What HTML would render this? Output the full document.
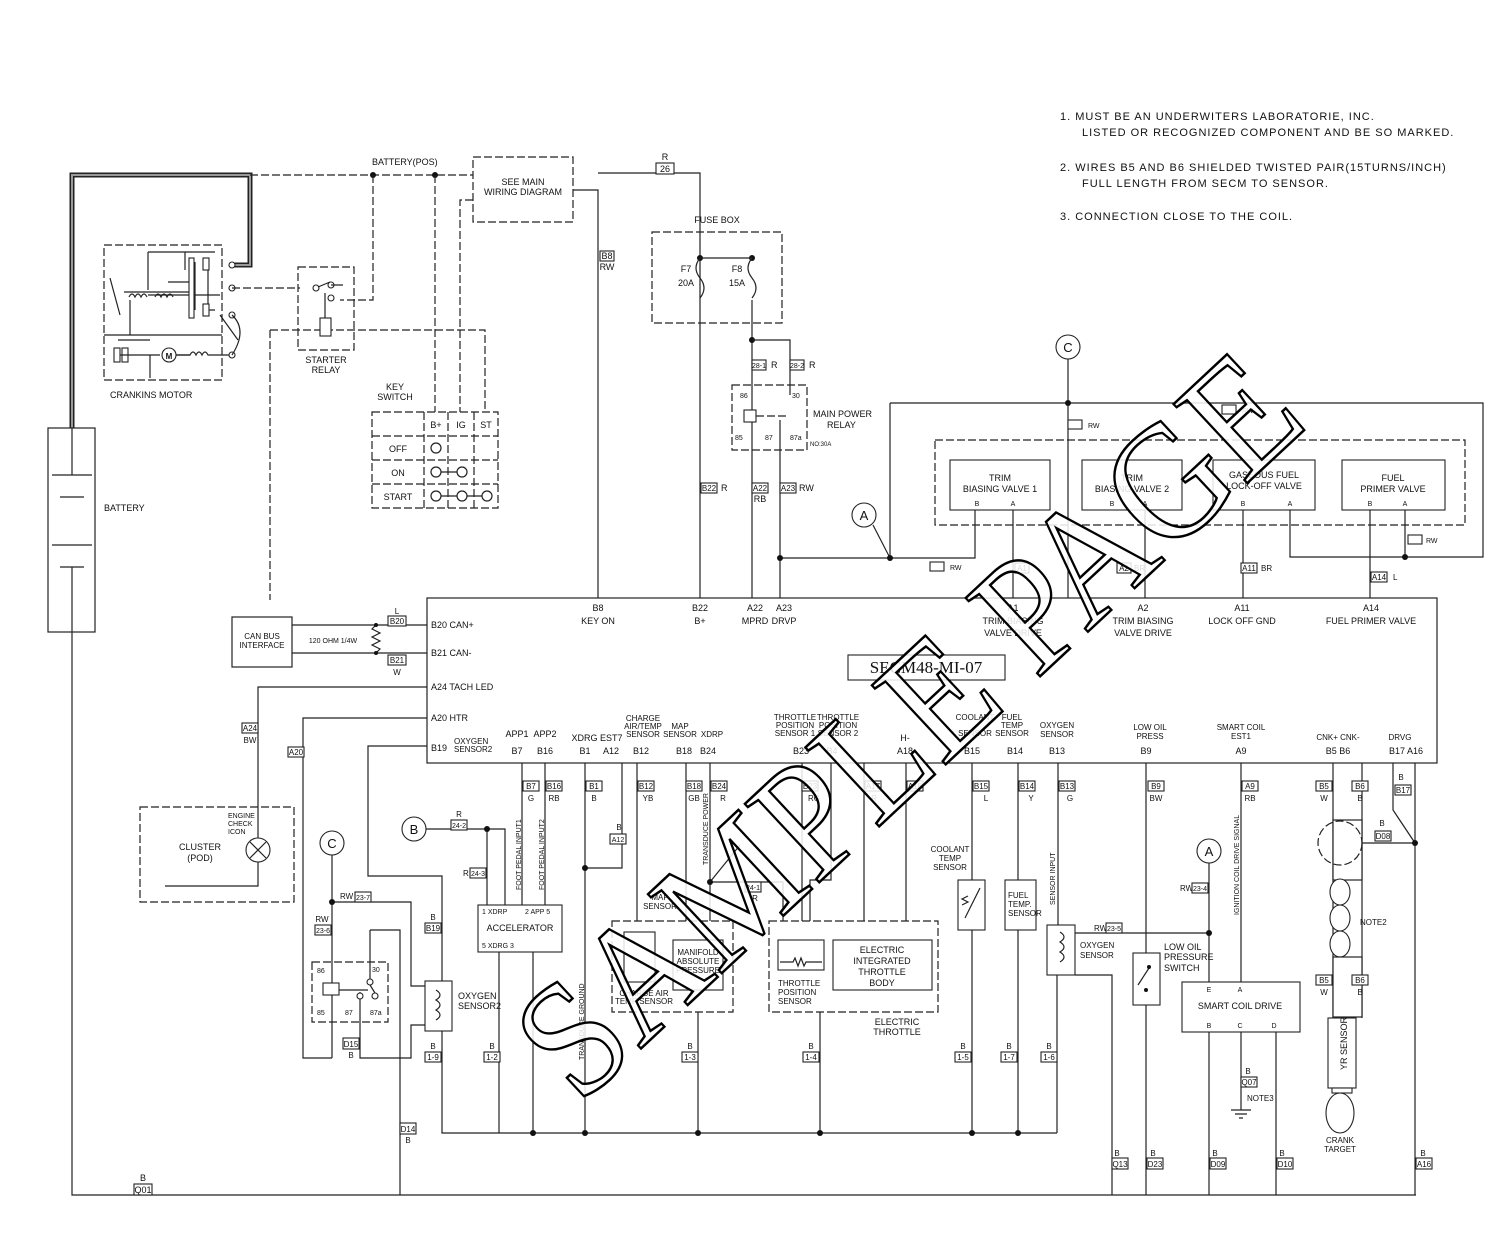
<!DOCTYPE html>
<html><head><meta charset="utf-8"><style>
html,body{margin:0;padding:0;background:#fff}
svg{display:block}
text{font-family:"Liberation Sans",sans-serif;font-size:9px;fill:#111}
.l{stroke:#222;stroke-width:1.2;fill:none}
.d{stroke:#222;stroke-width:1.2;fill:none;stroke-dasharray:8 3}
.b{stroke:#222;stroke-width:1.1;fill:#fff}
.m{text-anchor:middle}
.n{font-size:11px;letter-spacing:1px}
</style></head><body>
<svg width="1500" height="1259" viewBox="0 0 1500 1259" xmlns="http://www.w3.org/2000/svg">
<!-- notes -->
<text x="1060" y="120" class="n">1. MUST BE AN UNDERWITERS LABORATORIE, INC.</text>
<text x="1082" y="136" class="n">LISTED OR RECOGNIZED COMPONENT AND BE SO MARKED.</text>
<text x="1060" y="171" class="n">2. WIRES B5 AND B6 SHIELDED TWISTED PAIR(15TURNS/INCH)</text>
<text x="1082" y="187" class="n">FULL LENGTH FROM SECM TO SENSOR.</text>
<text x="1060" y="220" class="n">3. CONNECTION CLOSE TO THE COIL.</text>

<!-- thick hatched cable -->
<path d="M72,428 V175 H250 V265 H232" fill="none" stroke="#222" stroke-width="5"/>
<path d="M72,428 V175 H250 V265 H232" fill="none" stroke="#999" stroke-width="2"/>
<!-- battery -->
<rect x="48" y="428" width="47" height="204" class="l"/>
<path d="M72,428 V475 M52,475 H92 M60,497 H84 M52,545 H92 M60,567 H84 M72,567 V632" class="l"/>
<text x="104" y="511">BATTERY</text>
<path d="M72,632 V1195 H1416" class="l"/>
<text x="143" y="1181" class="m">B</text><rect x="134" y="1184" width="18" height="11" class="b"/><text x="143" y="1193" class="m">Q01</text>

<!-- cranking motor -->
<rect x="104" y="245" width="118" height="135" class="d"/>
<path d="M104,335 H222 M148,252 H215 M148,252 V290 M185,252 V270 M195,262 V310 M208,262 V310 H215 M168,282 H190 M148,295 H220 M110,278 L120,315 M118,340 H150 M165,355 H190 M220,315 L238,340 M124,292 H190 M130,300 V335" class="l"/>
<rect x="189" y="258" width="5" height="60" class="b"/><rect x="203" y="258" width="6" height="12" class="b"/><rect x="203" y="304" width="6" height="12" class="b"/>
<rect x="114" y="348" width="6" height="14" class="b"/><rect x="122" y="348" width="6" height="14" class="b"/>
<path d="M120,355 H160" class="l"/>
<circle cx="169" cy="355" r="7" class="b"/><text x="169" y="359" class="m" style="font-weight:bold;font-size:8px">M</text>
<path d="M176,355 H190 q3,-6 6,0 q3,-6 6,0 q3,-6 6,0 H232" class="l"/>
<path d="M129,297 q3,-6 6,0 q3,-6 6,0 q3,-6 6,0 M155,297 q3,-6 6,0 q3,-6 6,0 q3,-6 6,0" class="l"/>
<path d="M150,355 V378" class="l"/>
<circle cx="232" cy="265" r="3" class="b"/><circle cx="232" cy="288" r="3" class="b"/><circle cx="232" cy="315" r="3" class="b"/><circle cx="232" cy="355" r="3" class="b"/>
<path d="M232,315 Q248,330 232,355" class="l"/>
<text x="110" y="398">CRANKINS MOTOR</text>

<!-- top battery line -->
<path d="M250,175 H473" class="d"/>
<text x="372" y="165">BATTERY(POS)</text>
<circle cx="373" cy="175" r="3" fill="#111"/><circle cx="435" cy="175" r="3" fill="#111"/>
<path d="M373,175 V300 H340 M435,175 V412 M473,200 H460 V412 M270,330 H485 V412 M270,330 V600 M232,288 H300" class="d"/>
<rect x="473" y="157" width="100" height="65" class="d"/>
<text x="523" y="185" class="m">SEE MAIN</text><text x="523" y="195" class="m">WIRING DIAGRAM</text>
<rect x="298" y="267" width="56" height="83" class="d"/>
<circle cx="316" cy="288" r="3" class="b"/><circle cx="331" cy="285" r="3" class="b"/><circle cx="331" cy="298" r="3" class="b"/>
<path d="M318,287 L330,282 M331,285 H343 M325,293 V318" class="l"/><rect x="320" y="318" width="11" height="18" class="b"/>
<text x="326" y="363" class="m">STARTER</text><text x="326" y="373" class="m">RELAY</text>

<!-- key switch -->
<text x="395" y="390" class="m">KEY</text><text x="395" y="400" class="m">SWITCH</text>
<path d="M372,412 H498 V508 H372 Z M372,436 H498 M372,460 H498 M372,484 H498 M424,412 V508 M448,412 V508 M474,412 V508" class="d"/>
<text x="436" y="428" class="m">B+</text><text x="461" y="428" class="m">IG</text><text x="486" y="428" class="m">ST</text>
<text x="398" y="452" class="m">OFF</text><text x="398" y="476" class="m">ON</text><text x="398" y="500" class="m">START</text>
<circle cx="436" cy="448" r="5" class="l"/><circle cx="436" cy="472" r="5" class="l"/><circle cx="462" cy="472" r="5" class="l"/>
<circle cx="436" cy="496" r="5" class="l"/><circle cx="462" cy="496" r="5" class="l"/><circle cx="487" cy="496" r="5" class="l"/>
<path d="M441,472 H457 M441,496 H457 M467,496 H482" class="l"/>

<!-- B8 / R26 / fuses -->
<path d="M573,190 H598 V598 M598,173 H700 V598" class="l"/>
<text x="665" y="160" class="m">R</text><rect x="656" y="163" width="18" height="11" class="b"/><text x="665" y="172" class="m">26</text>
<rect x="600" y="251" width="14" height="10" class="b"/><text x="607" y="259" class="m">B8</text><text x="607" y="270" class="m">RW</text>
<text x="717" y="223" class="m">FUSE BOX</text>
<rect x="652" y="232" width="130" height="91" class="d"/>
<circle cx="700" cy="258" r="3" fill="#111"/><circle cx="752" cy="258" r="3" fill="#111"/>
<path d="M700,258 H752 M700,258 q-8,10 0,20 q8,10 0,20 M752,258 q-8,10 0,20 q8,10 0,20 M752,300 V598" class="l"/>
<text x="686" y="272" class="m">F7</text><text x="686" y="286" class="m">20A</text><text x="737" y="272" class="m">F8</text><text x="737" y="286" class="m">15A</text>
<circle cx="752" cy="340" r="3" fill="#111"/><path d="M752,340 H790 V395 M780,420 V598" class="l"/>
<rect x="752" y="360" width="14" height="10" class="b"/><text x="759" y="368" class="m" style="font-size:7px">28-1</text><text x="771" y="368">R</text>
<rect x="790" y="360" width="14" height="10" class="b"/><text x="797" y="368" class="m" style="font-size:7px">28-2</text><text x="809" y="368">R</text>
<rect x="732" y="385" width="75" height="65" class="d"/>
<rect x="744" y="410" width="12" height="12" class="b"/><path d="M756,416 H786" class="d"/>
<text x="740" y="398" style="font-size:7px">86</text><text x="792" y="398" style="font-size:7px">30</text>
<text x="735" y="440" style="font-size:7px">85</text><text x="765" y="440" style="font-size:7px">87</text><text x="790" y="440" style="font-size:7px">87a</text>
<text x="813" y="417">MAIN POWER</text><text x="827" y="428">RELAY</text><text x="810" y="446" style="font-size:6px">NO:30A</text>
<rect x="701" y="483" width="16" height="10" class="b"/><text x="709" y="491" class="m" style="font-size:8px">B22</text><text x="721" y="491">R</text>
<rect x="752" y="483" width="16" height="10" class="b"/><text x="760" y="491" class="m" style="font-size:8px">A22</text><text x="760" y="502" class="m">RB</text>
<rect x="780" y="483" width="16" height="10" class="b"/><text x="788" y="491" class="m" style="font-size:8px">A23</text><text x="799" y="491">RW</text>

<!-- valves area -->
<circle cx="1068" cy="347" r="12" class="b"/><text x="1068" y="352" class="m" style="font-size:13px">C</text>
<path d="M1068,359 V598 M890,403 H1483 V557 H1290 V510 M890,403 V558 M780,558 H975 V510 M1013,510 V598 M1145,510 V598 M1243,510 V598 M1370,510 V598 M1405,510 V557 M873,525 L890,558" class="l"/>
<circle cx="1068" cy="403" r="3" fill="#111"/><circle cx="890" cy="558" r="3" fill="#111"/><circle cx="780" cy="558" r="3" fill="#111"/><circle cx="1405" cy="557" r="3" fill="#111"/>
<circle cx="864" cy="515" r="12" class="b"/><text x="864" y="520" class="m" style="font-size:13px">A</text>
<rect x="1068" y="420" width="14" height="9" class="b"/><text x="1088" y="428" style="font-size:7px">RW</text>
<rect x="1222" y="405" width="14" height="9" class="b"/><text x="1242" y="413" style="font-size:7px">RW</text>
<rect x="1408" y="535" width="14" height="9" class="b"/><text x="1426" y="543" style="font-size:7px">RW</text>
<rect x="930" y="562" width="14" height="9" class="b"/><text x="950" y="570" style="font-size:7px">RW</text>
<rect x="1015" y="563" width="14" height="10" class="b"/><text x="1022" y="571" class="m" style="font-size:8px">A1</text>
<rect x="1117" y="563" width="14" height="10" class="b"/><text x="1124" y="571" class="m" style="font-size:8px">A2</text><text x="1134" y="571" style="font-size:8px">BR</text>
<rect x="1241" y="563" width="16" height="10" class="b"/><text x="1249" y="571" class="m" style="font-size:8px">A11</text><text x="1261" y="571" style="font-size:8px">BR</text>
<rect x="1371" y="572" width="16" height="10" class="b"/><text x="1379" y="580" class="m" style="font-size:8px">A14</text><text x="1393" y="580" style="font-size:8px">L</text>
<rect x="935" y="440" width="530" height="85" class="d"/>
<rect x="950" y="460" width="100" height="50" class="b"/><text x="1000" y="481" class="m">TRIM</text><text x="1000" y="492" class="m">BIASING VALVE 1</text><text x="977" y="506" class="m" style="font-size:7px">B</text><text x="1013" y="506" class="m" style="font-size:7px">A</text>
<rect x="1082" y="460" width="100" height="50" class="b"/><text x="1132" y="481" class="m">TRIM</text><text x="1132" y="492" class="m">BIASING VALVE 2</text><text x="1112" y="506" class="m" style="font-size:7px">B</text><text x="1145" y="506" class="m" style="font-size:7px">A</text>
<rect x="1213" y="460" width="102" height="50" class="b"/><text x="1264" y="478" class="m">GASEOUS FUEL</text><text x="1264" y="489" class="m">LOCK-OFF VALVE</text><text x="1243" y="506" class="m" style="font-size:7px">B</text><text x="1290" y="506" class="m" style="font-size:7px">A</text>
<rect x="1342" y="460" width="103" height="50" class="b"/><text x="1393" y="481" class="m">FUEL</text><text x="1393" y="492" class="m">PRIMER VALVE</text><text x="1370" y="506" class="m" style="font-size:7px">B</text><text x="1405" y="506" class="m" style="font-size:7px">A</text>

<!-- SECM -->
<rect x="427" y="598" width="1010" height="165" class="l"/>
<rect x="848" y="655" width="157" height="25" class="b"/><text x="926" y="673" class="m" style="font-family:'Liberation Serif',serif;font-size:17px">SECM48-MI-07</text>
<g class="m">
<text x="598" y="611" class="m">B8</text><text x="598" y="624" class="m">KEY ON</text>
<text x="700" y="611" class="m">B22</text><text x="700" y="624" class="m">B+</text>
<text x="755" y="611" class="m">A22</text><text x="755" y="624" class="m">MPRD</text>
<text x="784" y="611" class="m">A23</text><text x="784" y="624" class="m">DRVP</text>
<text x="1013" y="611" class="m">A1</text><text x="1013" y="624" class="m">TRIM BIASING</text><text x="1013" y="636" class="m">VALVE DRIVE</text>
<text x="1143" y="611" class="m">A2</text><text x="1143" y="624" class="m">TRIM BIASING</text><text x="1143" y="636" class="m">VALVE DRIVE</text>
<text x="1242" y="611" class="m">A11</text><text x="1242" y="624" class="m">LOCK OFF GND</text>
<text x="1371" y="611" class="m">A14</text><text x="1371" y="624" class="m">FUEL PRIMER VALVE</text>
</g>
<text x="431" y="628">B20 CAN+</text><text x="431" y="656">B21 CAN-</text><text x="431" y="690">A24 TACH LED</text><text x="431" y="721">A20 HTR</text><text x="431" y="751">B19</text><text x="454" y="744" style="font-size:8px">OXYGEN</text><text x="454" y="752" style="font-size:8px">SENSOR2</text>
<g style="font-size:9px">
<text x="517" y="754" class="m">B7</text><text x="545" y="754" class="m">B16</text><text x="517" y="737" class="m">APP1</text><text x="545" y="737" class="m">APP2</text>
<text x="585" y="754" class="m">B1</text><text x="611" y="754" class="m">A12</text><text x="597" y="741" class="m">XDRG EST7</text>
<text x="641" y="754" class="m">B12</text><text x="643" y="721" class="m" style="font-size:8px">CHARGE</text><text x="643" y="729" class="m" style="font-size:8px">AIR/TEMP</text><text x="643" y="737" class="m" style="font-size:8px">SENSOR</text>
<text x="684" y="754" class="m">B18</text><text x="708" y="754" class="m">B24</text><text x="680" y="729" class="m" style="font-size:8px">MAP</text><text x="680" y="737" class="m" style="font-size:8px">SENSOR</text><text x="712" y="737" class="m" style="font-size:8px">XDRP</text>
<text x="801" y="754" class="m">B23</text><text x="795" y="720" class="m" style="font-size:8px">THROTTLE</text><text x="795" y="728" class="m" style="font-size:8px">POSITION</text><text x="795" y="736" class="m" style="font-size:8px">SENSOR 1</text>
<text x="832" y="754" class="m">B4</text><text x="838" y="720" class="m" style="font-size:8px">THROTTLE</text><text x="838" y="728" class="m" style="font-size:8px">POSITION</text><text x="838" y="736" class="m" style="font-size:8px">SENSOR 2</text>
<text x="905" y="754" class="m">A18</text><text x="905" y="741" class="m">H-</text>
<text x="972" y="754" class="m">B15</text><text x="975" y="720" class="m" style="font-size:8px">COOLANT</text><text x="975" y="736" class="m" style="font-size:8px">SENSOR</text>
<text x="1015" y="754" class="m">B14</text><text x="1012" y="720" class="m" style="font-size:8px">FUEL</text><text x="1012" y="728" class="m" style="font-size:8px">TEMP</text><text x="1012" y="736" class="m" style="font-size:8px">SENSOR</text>
<text x="1057" y="754" class="m">B13</text><text x="1057" y="728" class="m" style="font-size:8px">OXYGEN</text><text x="1057" y="737" class="m" style="font-size:8px">SENSOR</text>
<text x="1146" y="754" class="m">B9</text><text x="1150" y="730" class="m" style="font-size:8px">LOW OIL</text><text x="1150" y="739" class="m" style="font-size:8px">PRESS</text>
<text x="1241" y="754" class="m">A9</text><text x="1241" y="730" class="m" style="font-size:8px">SMART COIL</text><text x="1241" y="739" class="m" style="font-size:8px">EST1</text>
<text x="1338" y="754" class="m">B5 B6</text><text x="1338" y="740" class="m" style="font-size:8px">CNK+ CNK-</text>
<text x="1406" y="754" class="m">B17 A16</text><text x="1400" y="740" class="m" style="font-size:8px">DRVG</text>
</g>

<!-- CAN -->
<rect x="232" y="617" width="60" height="50" class="l"/><text x="262" y="639" class="m" style="font-size:8px">CAN BUS</text><text x="262" y="648" class="m" style="font-size:8px">INTERFACE</text>
<path d="M292,625 H427 M292,653 H427 M376,625 l-4,4 8,4 -8,4 8,4 -8,4 8,4 -4,4" class="l"/>
<circle cx="376" cy="625" r="2" fill="#111"/><circle cx="376" cy="653" r="2" fill="#111"/>
<text x="333" y="643" class="m" style="font-size:7px">120 OHM 1/4W</text>
<text x="397" y="614" class="m" style="font-size:8px">L</text><rect x="388" y="616" width="18" height="10" class="b"/><text x="397" y="624" class="m" style="font-size:8px">B20</text>
<rect x="388" y="655" width="18" height="10" class="b"/><text x="397" y="663" class="m" style="font-size:8px">B21</text><text x="397" y="675" class="m" style="font-size:8px">W</text>

<!-- left harness -->
<path d="M427,687 H258 V838 M427,718 H303 V1058 H332 M427,746 H368 V876 H442 V1133 H1057" class="l"/>
<rect x="242" y="723" width="16" height="10" class="b"/><text x="250" y="731" class="m" style="font-size:8px">A24</text><text x="250" y="743" class="m" style="font-size:8px">BW</text>
<rect x="288" y="747" width="16" height="10" class="b"/><text x="296" y="755" class="m" style="font-size:8px">A20</text>
<rect x="140" y="807" width="154" height="95" class="d"/>
<text x="200" y="850" class="m">CLUSTER</text><text x="200" y="861" class="m">(POD)</text>
<text x="228" y="818" style="font-size:7px">ENGINE</text><text x="228" y="826" style="font-size:7px">CHECK</text><text x="228" y="834" style="font-size:7px">ICON</text>
<circle cx="258" cy="850" r="12" class="b"/><path d="M250,842 L266,858 M266,842 L250,858 M258,862 V886 H165" class="l"/>
<circle cx="332" cy="843" r="12" class="b"/><text x="332" y="848" class="m" style="font-size:13px">C</text>
<path d="M332,855 V1058 M332,902 H411 V986 H425 M370,930 H400 V1195 M360,992 V1058 H411 V1025 H425" class="l"/><circle cx="332" cy="902" r="3" fill="#111"/>
<text x="340" y="899" style="font-size:8px">RW</text><rect x="355" y="892" width="16" height="10" class="b"/><text x="363" y="900" class="m" style="font-size:7px">23-7</text>
<text x="322" y="922" class="m" style="font-size:8px">RW</text><rect x="315" y="925" width="16" height="10" class="b"/><text x="323" y="933" class="m" style="font-size:7px">23-6</text>
<rect x="312" y="962" width="76" height="60" class="d"/><rect x="323" y="983" width="16" height="12" class="b"/>
<text x="317" y="973" style="font-size:7px">86</text><text x="372" y="972" style="font-size:7px">30</text><text x="317" y="1015" style="font-size:7px">85</text><text x="345" y="1015" style="font-size:7px">87</text><text x="370" y="1015" style="font-size:7px">87a</text>
<circle cx="370" cy="982" r="3" class="b"/><circle cx="360" cy="996" r="3" class="b"/><circle cx="375" cy="996" r="3" class="b"/><path d="M370,985 L375,993 M370,930 V979 M339,990 H368" class="l"/>
<rect x="343" y="1038" width="16" height="11" class="b"/><text x="351" y="1047" class="m" style="font-size:8px">D15</text><text x="351" y="1058" class="m" style="font-size:8px">B</text>
<rect x="400" y="1123" width="16" height="11" class="b"/><text x="408" y="1132" class="m" style="font-size:8px">D14</text><text x="408" y="1143" class="m" style="font-size:8px">B</text>
<rect x="425" y="981" width="27" height="50" class="b"/><path d="M436,990 q8,5 0,10 q8,5 0,10 q8,5 0,10" class="l"/>
<text x="458" y="999" style="font-size:9px">OXYGEN</text><text x="458" y="1009" style="font-size:9px">SENSOR2</text>
<text x="433" y="920" class="m" style="font-size:8px">B</text><rect x="425" y="923" width="16" height="10" class="b"/><text x="433" y="931" class="m" style="font-size:8px">B19</text>
<text x="433" y="1049" class="m" style="font-size:8px">B</text><rect x="425" y="1052" width="16" height="10" class="b"/><text x="433" y="1060" class="m" style="font-size:8px">1-9</text>

<!-- accelerator -->
<circle cx="414" cy="829" r="12" class="b"/><text x="414" y="834" class="m" style="font-size:13px">B</text>
<path d="M426,829 H505 V905 M487,829 V905 M522,763 V905 M545,763 V905 M499,952 V1133 M533,952 V1133" class="l"/><circle cx="487" cy="829" r="3" fill="#111"/>
<text x="459" y="817" class="m" style="font-size:8px">R</text><rect x="451" y="820" width="16" height="10" class="b"/><text x="459" y="828" class="m" style="font-size:7px">24-2</text>
<text x="463" y="876" style="font-size:8px">R</text><rect x="470" y="868" width="16" height="10" class="b"/><text x="478" y="876" class="m" style="font-size:7px">24-3</text>
<rect x="478" y="905" width="84" height="47" class="b"/><text x="520" y="931" class="m">ACCELERATOR</text>
<text x="482" y="914" style="font-size:7px">1 XDRP</text><text x="525" y="914" style="font-size:7px">2 APP 5</text><text x="482" y="948" style="font-size:7px">5 XDRG 3</text>
<rect x="523" y="781" width="16" height="10" class="b"/><text x="531" y="789" class="m" style="font-size:8px">B7</text><text x="531" y="801" class="m" style="font-size:8px">G</text>
<rect x="546" y="781" width="16" height="10" class="b"/><text x="554" y="789" class="m" style="font-size:8px">B16</text><text x="554" y="801" class="m" style="font-size:8px">RB</text>
<text transform="translate(521,890) rotate(-90)" style="font-size:7px">FOOT PEDAL INPUT1</text>
<text transform="translate(544,890) rotate(-90)" style="font-size:7px">FOOT PEDAL INPUT2</text>
<text x="492" y="1049" class="m" style="font-size:8px">B</text><rect x="484" y="1052" width="16" height="10" class="b"/><text x="492" y="1060" class="m" style="font-size:8px">1-2</text>

<!-- middle sensors -->
<path d="M585,763 V1133 M585,868 H622 V763 M637,763 V921 M686,763 V921 M710,763 V921 M710,882 H783 V921 M802,763 V921 M831,763 V880 H810 V921 M864,763 V921 M906,763 V921 M698,1012 V1133 M820,1012 V1133 M972,763 V880 M972,930 V1133 M1018,763 V880 M1018,930 V1133 M1058,763 V925 M1057,975 V1133 M710,882 L740,845" class="l"/>
<circle cx="585" cy="868" r="3" fill="#111"/><circle cx="710" cy="882" r="3" fill="#111"/>
<circle cx="533" cy="1133" r="3" fill="#111"/><circle cx="585" cy="1133" r="3" fill="#111"/><circle cx="698" cy="1133" r="3" fill="#111"/><circle cx="820" cy="1133" r="3" fill="#111"/><circle cx="972" cy="1133" r="3" fill="#111"/><circle cx="1018" cy="1133" r="3" fill="#111"/>
<rect x="586" y="781" width="16" height="10" class="b"/><text x="594" y="789" class="m" style="font-size:8px">B1</text><text x="594" y="801" class="m" style="font-size:8px">B</text>
<text x="619" y="830" class="m" style="font-size:8px">B</text><rect x="610" y="834" width="16" height="10" class="b"/><text x="618" y="842" class="m" style="font-size:7px">A12</text>
<rect x="638" y="781" width="16" height="10" class="b"/><text x="646" y="789" class="m" style="font-size:8px">B12</text><text x="648" y="801" class="m" style="font-size:8px">YB</text>
<rect x="686" y="781" width="16" height="10" class="b"/><text x="694" y="789" class="m" style="font-size:8px">B18</text><text x="694" y="801" class="m" style="font-size:8px">GB</text>
<rect x="711" y="781" width="16" height="10" class="b"/><text x="719" y="789" class="m" style="font-size:8px">B24</text><text x="723" y="801" class="m" style="font-size:8px">R</text>
<text transform="translate(708,865) rotate(-90)" style="font-size:7px">TRANSDUCE POWER</text>
<text transform="translate(584,1060) rotate(-90)" style="font-size:7px">TRANSDUCE GROUND</text>
<rect x="745" y="882" width="16" height="10" class="b"/><text x="753" y="890" class="m" style="font-size:7px">24-1</text><text x="755" y="901" class="m" style="font-size:8px">R</text>
<rect x="802" y="781" width="16" height="10" class="b"/><text x="810" y="789" class="m" style="font-size:8px">B23</text><text x="814" y="801" class="m" style="font-size:8px">RG</text>
<rect x="865" y="781" width="16" height="10" class="b"/><text x="873" y="789" class="m" style="font-size:8px">A17</text><text x="874" y="801" class="m" style="font-size:8px">R</text>
<rect x="907" y="781" width="16" height="10" class="b"/><text x="915" y="789" class="m" style="font-size:8px">A18</text>
<rect x="612" y="921" width="121" height="91" class="d"/>
<text x="660" y="900" class="m" style="font-size:8px">MAP</text><text x="660" y="909" class="m" style="font-size:8px">SENSOR</text>
<rect x="624" y="932" width="31" height="50" class="b"/><rect x="673" y="940" width="50" height="50" class="b"/>
<text x="698" y="955" class="m" style="font-size:8px">MANIFOLD</text><text x="698" y="964" class="m" style="font-size:8px">ABSOLUTE</text><text x="698" y="973" class="m" style="font-size:8px">PRESSURE</text>
<text x="644" y="996" class="m" style="font-size:8px">CHARGE AIR</text><text x="644" y="1004" class="m" style="font-size:8px">TEMP SENSOR</text>
<rect x="769" y="921" width="169" height="91" class="d"/>
<rect x="778" y="940" width="46" height="30" class="b"/><path d="M780,962 H793 l2,-4 3,8 3,-8 3,8 2,-4 H822" class="l"/>
<rect x="833" y="940" width="99" height="50" class="b"/>
<text x="882" y="953" class="m">ELECTRIC</text><text x="882" y="964" class="m">INTEGRATED</text><text x="882" y="975" class="m">THROTTLE</text><text x="882" y="986" class="m">BODY</text>
<text x="778" y="986" style="font-size:8px">THROTTLE</text><text x="778" y="995" style="font-size:8px">POSITION</text><text x="778" y="1004" style="font-size:8px">SENSOR</text>
<text x="897" y="1025" class="m">ELECTRIC</text><text x="897" y="1035" class="m">THROTTLE</text>
<text x="690" y="1049" class="m" style="font-size:8px">B</text><rect x="682" y="1052" width="16" height="10" class="b"/><text x="690" y="1060" class="m" style="font-size:8px">1-3</text>
<text x="811" y="1049" class="m" style="font-size:8px">B</text><rect x="803" y="1052" width="16" height="10" class="b"/><text x="811" y="1060" class="m" style="font-size:8px">1-4</text>
<rect x="973" y="781" width="16" height="10" class="b"/><text x="981" y="789" class="m" style="font-size:8px">B15</text><text x="986" y="801" class="m" style="font-size:8px">L</text>
<rect x="1019" y="781" width="16" height="10" class="b"/><text x="1027" y="789" class="m" style="font-size:8px">B14</text><text x="1031" y="801" class="m" style="font-size:8px">Y</text>
<rect x="1059" y="781" width="16" height="10" class="b"/><text x="1067" y="789" class="m" style="font-size:8px">B13</text><text x="1070" y="801" class="m" style="font-size:8px">G</text>
<text x="950" y="852" class="m" style="font-size:8px">COOLANT</text><text x="950" y="861" class="m" style="font-size:8px">TEMP</text><text x="950" y="870" class="m" style="font-size:8px">SENSOR</text>
<rect x="958" y="880" width="27" height="50" class="b"/><path d="M965,918 L980,888 M962,905 l6,-3 -6,-3 6,-3" class="l"/>
<rect x="1005" y="880" width="31" height="50" class="b"/><text x="1008" y="898" style="font-size:8px">FUEL</text><text x="1008" y="907" style="font-size:8px">TEMP.</text><text x="1008" y="916" style="font-size:8px">SENSOR</text>
<text transform="translate(1055,905) rotate(-90)" style="font-size:7px">SENSOR INPUT</text>
<rect x="1047" y="925" width="28" height="50" class="b"/><path d="M1060,932 q8,5 0,10 q8,5 0,10 q8,5 0,10" class="l"/>
<text x="1080" y="948" style="font-size:8px">OXYGEN</text><text x="1080" y="958" style="font-size:8px">SENSOR</text>
<text x="963" y="1049" class="m" style="font-size:8px">B</text><rect x="955" y="1052" width="16" height="10" class="b"/><text x="963" y="1060" class="m" style="font-size:8px">1-5</text>
<text x="1009" y="1049" class="m" style="font-size:8px">B</text><rect x="1001" y="1052" width="16" height="10" class="b"/><text x="1009" y="1060" class="m" style="font-size:8px">1-7</text>
<text x="1049" y="1049" class="m" style="font-size:8px">B</text><rect x="1041" y="1052" width="16" height="10" class="b"/><text x="1049" y="1060" class="m" style="font-size:8px">1-6</text>

<!-- right side -->
<path d="M1075,975 H1112 V1195 M1146,763 V1195 M1075,933 H1209 M1209,863 V982 M1241,763 V982 M1209,1032 V1195 M1241,1032 V1110 M1276,1032 V1195 M1333,763 V1018 M1362,763 V1018 M1415,763 V1195 M1393,763 V810 L1415,843 M1362,843 H1415" class="l"/>
<circle cx="1209" cy="933" r="3" fill="#111"/><circle cx="1415" cy="843" r="3" fill="#111"/>
<path d="M1231,1110 H1251 M1235,1114 H1247 M1239,1118 H1243" class="l"/>
<rect x="1148" y="781" width="16" height="10" class="b"/><text x="1156" y="789" class="m" style="font-size:8px">B9</text><text x="1156" y="801" class="m" style="font-size:8px">BW</text>
<rect x="1242" y="781" width="16" height="10" class="b"/><text x="1250" y="789" class="m" style="font-size:8px">A9</text><text x="1250" y="801" class="m" style="font-size:8px">RB</text>
<text transform="translate(1239,915) rotate(-90)" style="font-size:7px">IGNITION COIL DRIVE SIGNAL</text>
<circle cx="1209" cy="851" r="12" class="b"/><text x="1209" y="856" class="m" style="font-size:13px">A</text>
<text x="1180" y="891" style="font-size:8px">RW</text><rect x="1192" y="883" width="16" height="10" class="b"/><text x="1200" y="891" class="m" style="font-size:7px">23-4</text>
<text x="1094" y="931" style="font-size:8px">RW</text><rect x="1106" y="923" width="16" height="10" class="b"/><text x="1114" y="931" class="m" style="font-size:7px">23-5</text>
<rect x="1133" y="953" width="27" height="52" class="b"/><path d="M1138,985 L1149,968" class="l"/><circle cx="1149" cy="967" r="2" fill="#111"/><circle cx="1146" cy="990" r="2" fill="#111"/>
<text x="1164" y="950" style="font-size:9px">LOW OIL</text><text x="1164" y="960" style="font-size:9px">PRESSURE</text><text x="1164" y="971" style="font-size:9px">SWITCH</text>
<rect x="1182" y="982" width="118" height="50" class="b"/><text x="1240" y="1009" class="m">SMART COIL DRIVE</text>
<text x="1209" y="992" class="m" style="font-size:7px">E</text><text x="1240" y="992" class="m" style="font-size:7px">A</text>
<text x="1209" y="1028" class="m" style="font-size:7px">B</text><text x="1240" y="1028" class="m" style="font-size:7px">C</text><text x="1274" y="1028" class="m" style="font-size:7px">D</text>
<text x="1248" y="1074" class="m" style="font-size:8px">B</text><rect x="1241" y="1077" width="16" height="10" class="b"/><text x="1249" y="1085" class="m" style="font-size:8px">Q07</text><text x="1247" y="1101" style="font-size:8px">NOTE3</text>
<text x="1117" y="1156" class="m" style="font-size:8px">B</text><rect x="1112" y="1158" width="16" height="11" class="b"/><text x="1120" y="1167" class="m" style="font-size:8px">Q13</text>
<text x="1153" y="1156" class="m" style="font-size:8px">B</text><rect x="1147" y="1158" width="16" height="11" class="b"/><text x="1155" y="1167" class="m" style="font-size:8px">D23</text>
<text x="1215" y="1156" class="m" style="font-size:8px">B</text><rect x="1210" y="1158" width="16" height="11" class="b"/><text x="1218" y="1167" class="m" style="font-size:8px">D09</text>
<text x="1282" y="1156" class="m" style="font-size:8px">B</text><rect x="1277" y="1158" width="16" height="11" class="b"/><text x="1285" y="1167" class="m" style="font-size:8px">D10</text>
<text x="1423" y="1156" class="m" style="font-size:8px">B</text><rect x="1416" y="1158" width="16" height="11" class="b"/><text x="1424" y="1167" class="m" style="font-size:8px">A16</text>
<rect x="1316" y="781" width="16" height="10" class="b"/><text x="1324" y="789" class="m" style="font-size:8px">B5</text><text x="1324" y="801" class="m" style="font-size:8px">W</text>
<rect x="1352" y="781" width="16" height="10" class="b"/><text x="1360" y="789" class="m" style="font-size:8px">B6</text><text x="1360" y="801" class="m" style="font-size:8px">B</text>
<rect x="1395" y="785" width="16" height="10" class="b"/><text x="1403" y="793" class="m" style="font-size:8px">B17</text><text x="1401" y="780" class="m" style="font-size:8px">B</text>
<text x="1382" y="826" class="m" style="font-size:8px">B</text><rect x="1375" y="831" width="16" height="10" class="b"/><text x="1383" y="839" class="m" style="font-size:8px">D08</text>
<rect x="1333" y="820" width="29" height="60" fill="#fff" stroke="#222" stroke-width="1.2"/>
<circle cx="1340" cy="843" r="22" class="d"/>
<ellipse cx="1340" cy="892" rx="10" ry="13" class="b"/><ellipse cx="1340" cy="918" rx="10" ry="13" class="b"/><ellipse cx="1340" cy="944" rx="10" ry="13" class="b"/>
<text x="1360" y="925" style="font-size:8px">NOTE2</text>
<rect x="1333" y="957" width="29" height="60" fill="#fff" stroke="#222" stroke-width="1.2"/>
<rect x="1316" y="975" width="16" height="10" class="b"/><text x="1324" y="983" class="m" style="font-size:8px">B5</text><text x="1324" y="995" class="m" style="font-size:8px">W</text>
<rect x="1352" y="975" width="16" height="10" class="b"/><text x="1360" y="983" class="m" style="font-size:8px">B6</text><text x="1360" y="995" class="m" style="font-size:8px">B</text>
<rect x="1328" y="1018" width="28" height="70" class="b"/><rect x="1332" y="1088" width="20" height="5" class="b"/>
<text transform="translate(1347,1070) rotate(-90)" style="font-size:9px">YR SENSOR</text>
<ellipse cx="1340" cy="1113" rx="14" ry="20" class="b"/>
<text x="1340" y="1143" class="m" style="font-size:8px">CRANK</text><text x="1340" y="1152" class="m" style="font-size:8px">TARGET</text>

<!-- watermark -->
<text x="0" y="0" transform="translate(945,765) rotate(-43)" text-anchor="middle" textLength="1000" lengthAdjust="spacingAndGlyphs" style="font-family:'Liberation Serif',serif;font-size:165px;fill:#fff;fill-opacity:0.85;stroke:#000;stroke-width:2.5">SAMPLE PAGE</text>
</svg>
</body></html>
